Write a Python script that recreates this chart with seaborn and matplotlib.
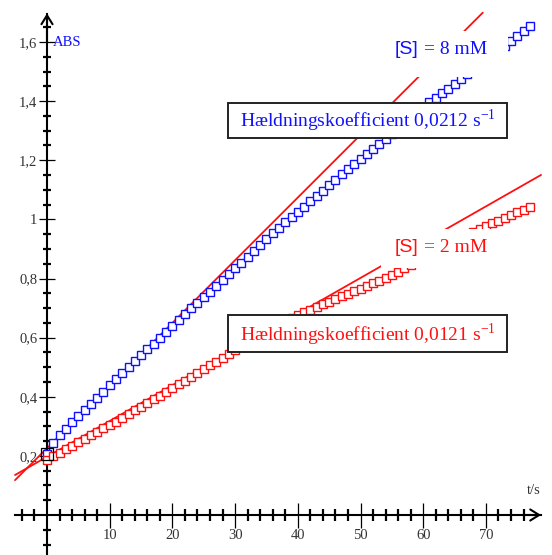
import matplotlib
matplotlib.use("Agg")
import matplotlib.pyplot as plt
import seaborn as sns
from matplotlib.patches import Rectangle
from matplotlib.ticker import FixedLocator, FixedFormatter

# ---------------- data ----------------
time_s = list(range(0, 78))
abs_8mM = [
    0.208, 0.243, 0.270, 0.291, 0.314, 0.334, 0.354, 0.375, 0.396, 0.417,
    0.440, 0.461, 0.481, 0.502, 0.522, 0.541, 0.561, 0.579, 0.600, 0.620,
    0.640, 0.661, 0.680, 0.699, 0.718, 0.738, 0.756, 0.776, 0.796, 0.815,
    0.835, 0.854, 0.873, 0.892, 0.913, 0.934, 0.953, 0.970, 0.990, 1.009,
    1.026, 1.043, 1.062, 1.080, 1.096, 1.116, 1.134, 1.153, 1.170, 1.187,
    1.204, 1.221, 1.238, 1.254, 1.271, 1.289, 1.307, 1.325, 1.343, 1.361,
    1.380, 1.398, 1.412, 1.427, 1.441, 1.457, 1.475, 1.491, 1.507, 1.523,
    1.540, 1.556, 1.572, 1.588, 1.604, 1.620, 1.638, 1.654,
]
abs_2mM = [
    0.186, 0.200, 0.211, 0.222, 0.234, 0.246, 0.258, 0.270, 0.281, 0.293,
    0.305, 0.316, 0.328, 0.341, 0.354, 0.366, 0.379, 0.392, 0.404, 0.417,
    0.430, 0.442, 0.455, 0.468, 0.480, 0.493, 0.506, 0.518, 0.531, 0.544,
    0.557, 0.569, 0.581, 0.593, 0.605, 0.617, 0.629, 0.641, 0.653, 0.665,
    0.677, 0.686, 0.695, 0.704, 0.713, 0.722, 0.731, 0.740, 0.749, 0.757,
    0.766, 0.775, 0.784, 0.793, 0.802, 0.812, 0.823, 0.834, 0.846, 0.857,
    0.868, 0.879, 0.890, 0.902, 0.913, 0.924, 0.935, 0.946, 0.958, 0.969,
    0.978, 0.987, 0.996, 1.006, 1.015, 1.024, 1.033, 1.042,
]
fit_slopes = [0.0212, 0.0121]
fit_intercepts = [0.226, 0.197]
fit_t_ranges = [[-5.1, 69.5], [-5.1, 78.8]]
conc_labels = ["= 8 mM", "= 2 mM"]
slope_labels = ["Hældningskoefficient 0,0212 s", "Hældningskoefficient 0,0121 s"]
x_major = [10, 20, 30, 40, 50, 60, 70]
x_major_labels = ["10", "20", "30", "40", "50", "60", "70"]
y_major = [0.2, 0.4, 0.6, 0.8, 1.0, 1.2, 1.4, 1.6]
y_major_labels = ["0,2", "0,4", "0,6", "0,8", "1", "1,2", "1,4", "1,6"]

BLUE = "#1010ff"
RED = "#ff1010"

# ---------------- style ----------------
sns.set_style("white")
plt.rcParams["font.family"] = ["Liberation Serif", "DejaVu Sans"]
plt.rcParams["mathtext.fontset"] = "stix"

W, H = 552, 555
fig = plt.figure(figsize=(W / 100, H / 100), dpi=100)
ax = fig.add_axes([0, 0, 1, 1])

x0px, xscale = 47.0, 6.27
y0px, yscale = 515.0, 295.6
ax.set_xlim(-x0px / xscale, (W - x0px) / xscale)
ax.set_ylim((y0px - H) / yscale, y0px / yscale)


def fx(px):
    return px / W


def fy(py):
    return 1 - py / H


# fit lines
for slope, icpt, rng in zip(fit_slopes, fit_intercepts, fit_t_ranges):
    yy = [icpt + slope * t for t in rng]
    sns.lineplot(x=rng, y=yy, color=RED, linewidth=1.3, ax=ax, zorder=2,
                 legend=False)

# data series
for yvals, col in [(abs_8mM, BLUE), (abs_2mM, RED)]:
    sns.lineplot(x=time_s, y=yvals, color=col, linewidth=0.9, marker="s",
                 markersize=5.2, markerfacecolor="white", markeredgecolor=col,
                 markeredgewidth=1.0, ax=ax, zorder=3, legend=False)

# selected point marker
ax.plot([time_s[0]], [abs_8mM[0]], marker="s", markersize=8.5,
        markerfacecolor="none", markeredgecolor="black",
        markeredgewidth=0.9, zorder=3.5)

ax.set_xlabel("")
ax.set_ylabel("")

# ---------------- axes through origin ----------------
for s in ["top", "right"]:
    ax.spines[s].set_visible(False)
ax.spines["left"].set_position(("data", 0))
ax.spines["bottom"].set_position(("data", 0))
ax.spines["left"].set_bounds(ax.get_ylim()[0], 1.695)
ax.spines["bottom"].set_bounds(-5.1, 78.8)
for s in ["left", "bottom"]:
    ax.spines[s].set_linewidth(1.5)
    ax.spines[s].set_color("black")
    ax.spines[s].set_zorder(2.5)

ax.annotate("", xy=(0, 1.697), xytext=(0, 1.6),
            arrowprops=dict(arrowstyle="->,head_length=0.32,head_width=0.2",
                            lw=1.5, color="black", shrinkA=0, shrinkB=0,
                            mutation_scale=20))
ax.annotate("", xy=(78.8, 0), xytext=(76, 0),
            arrowprops=dict(arrowstyle="->,head_length=0.32,head_width=0.2",
                            lw=1.5, color="black", shrinkA=0, shrinkB=0,
                            mutation_scale=20))

ax.xaxis.set_major_locator(FixedLocator(x_major))
ax.xaxis.set_major_formatter(FixedFormatter(x_major_labels))
ax.xaxis.set_minor_locator(FixedLocator([v for v in range(-4, 78, 2) if v % 10 != 0]))
ax.yaxis.set_major_locator(FixedLocator(y_major))
ax.yaxis.set_major_formatter(FixedFormatter(y_major_labels))
y_minor = [round(-0.1 + 0.05 * i, 2) for i in range(36)]
y_minor = [v for v in y_minor if abs(v) > 1e-9 and abs(round(v / 0.2) * 0.2 - v) > 1e-6]
ax.yaxis.set_minor_locator(FixedLocator(y_minor))

ax.tick_params(axis="x", which="major", direction="inout", length=18, width=0.9,
               labelsize=10.5, pad=1, labelcolor="#333333", color="black")
ax.tick_params(axis="x", which="minor", direction="inout", length=8, width=1.6,
               color="black")
ax.tick_params(axis="y", which="major", direction="inout", length=12, width=0.9,
               labelsize=10.5, pad=1, labelcolor="#333333", color="black")
ax.tick_params(axis="y", which="minor", direction="inout", length=6, width=1.6,
               color="black")
ax.tick_params(bottom=True, left=True, which="both")

# axis names
ax.text(fx(53), fy(42), "ABS", transform=ax.transAxes, color=BLUE,
        fontsize=10.5, ha="left", va="center")
ax.text(fx(534), fy(490), "t/s", transform=ax.transAxes, color="#333333",
        fontsize=10.5, ha="center", va="center")

# white masks behind concentration labels
ax.add_patch(Rectangle((fx(388), fy(77)), (508 - 388) / W, (77 - 31) / H,
                       transform=ax.transAxes, facecolor="white",
                       edgecolor="none", zorder=4))
ax.add_patch(Rectangle((fx(381), fy(268)), (497 - 381) / W, (268 - 229) / H,
                       transform=ax.transAxes, facecolor="white",
                       edgecolor="none", zorder=4))

# concentration labels
for lbl, col, py in [(conc_labels[0], BLUE, 49), (conc_labels[1], RED, 248)]:
    ax.text(fx(395), fy(py), "[S]", transform=ax.transAxes, color=col,
            fontsize=14, family=["Liberation Sans", "DejaVu Sans"],
            ha="left", va="center", zorder=6)
    ax.text(fx(424.5), fy(py), lbl, transform=ax.transAxes, color=col,
            fontsize=14, ha="left", va="center", zorder=6)

# slope boxes
for lbl, col, top, bot, base in [(slope_labels[0], BLUE, 103, 138, 127),
                                 (slope_labels[1], RED, 315, 352, 341)]:
    ax.add_patch(Rectangle((fx(228), fy(bot)), (507 - 228) / W, (bot - top) / H,
                           transform=ax.transAxes, facecolor="white",
                           edgecolor="#222222", linewidth=1.4, zorder=5))
    ax.text(fx(240), fy(base), lbl + r"$^{\mathregular{-1}}$",
            transform=ax.transAxes, color=col, fontsize=14,
            ha="left", va="baseline", zorder=6)

fig.savefig("out.png", dpi=100)
